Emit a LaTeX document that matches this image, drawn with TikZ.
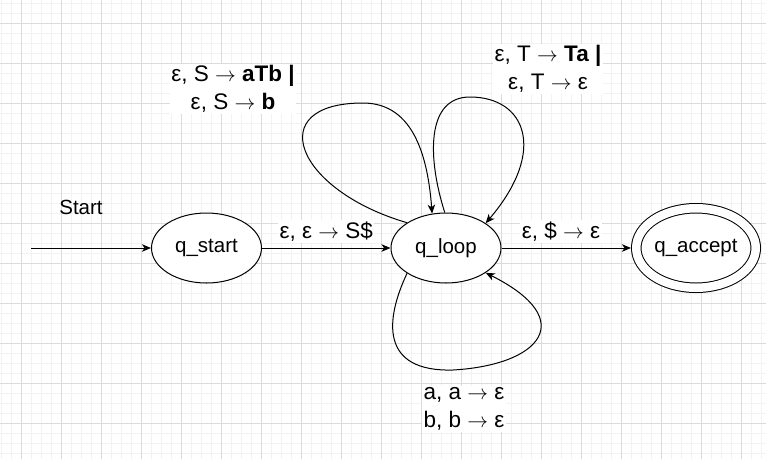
\documentclass[tikz,border=0pt]{standalone}
\usepackage{fontspec}
\setmainfont{Liberation Sans}
\usetikzlibrary{shapes.geometric,arrows.meta}
\newcommand{\arr}{\ensuremath{\rightarrow}}
\tikzset{
  st/.style={ellipse,draw,fill=white,line width=1pt,minimum width=110pt,minimum height=70pt,inner sep=0pt},
  edge/.style={-{Stealth[length=9pt,width=7.5pt,inset=2.5pt]},line width=1pt},
  lbl/.style={fill=white,inner sep=1.5pt,align=center,font=\fontsize{22.5}{28}\selectfont},
  gmin/.style={draw=black!5,line width=0.8pt},
  gmaj/.style={draw=black!14,line width=1pt}
}

\begin{document}
\begin{tikzpicture}[x=1pt,y=-1pt,font=\fontsize{20.5}{28}\selectfont]
\useasboundingbox (0,0) rectangle (766,459);
\fill[white] (0,0) rectangle (766,459);
% grid
\foreach \x in {1,11,...,761} \draw[gmin] (\x,0) -- (\x,459);
\foreach \y in {3,13,...,453} \draw[gmin] (0,\y) -- (766,\y);
\foreach \x in {21,61,...,741} \draw[gmaj] (\x,0) -- (\x,459);
\foreach \y in {23,63,...,423} \draw[gmaj] (0,\y) -- (766,\y);
% states
\node[st] (qstart) at (206.5,248) {q\_start};
\node[st] (qloop) at (446,248) {q\_loop};
\node[st,double,double distance=8.5pt,minimum width=119.5pt,minimum height=79.5pt,outer sep=5.25pt] (qaccept) at (696,248) {q\_accept};
% start arrow
\coordinate (st0) at (31,248);
\node (startlbl) at (81,207.5) {Start};
\draw[edge] (st0) -- (qstart);
% transitions
\draw[edge] (qstart) -- node[lbl,above=5pt] {ε, ε \arr{} S\$} (qloop);
\draw[edge] (qloop) -- node[lbl,above=5pt,pos=0.46] {ε, \$ \arr{} ε} (qaccept);
\draw[edge] (qloop.147) .. controls (295,190) and (262,103) .. (363,103) .. controls (415,103) and (428,160) .. (qloop.112);
\draw[edge] (qloop.92) .. controls (428,160) and (425,97) .. (470,97) .. controls (525,97) and (548,150) .. (qloop.32);
\draw[edge] (qloop.213) .. controls (385,320) and (380,372) .. (453,370) .. controls (540,365) and (580,320) .. (qloop.328);
\node[lbl] (lab1) at (233,89) {ε, S \arr{} \textbf{aTb |}\\ε, S \arr{} \textbf{b}};
\node[lbl] (lab2) at (548,69) {ε, T \arr{} \textbf{Ta |}\\ε, T \arr{} ε};
\node[lbl] (lab3) at (464,409) {a, a \arr{} ε\\b, b \arr{} ε};
\end{tikzpicture}
\end{document}
